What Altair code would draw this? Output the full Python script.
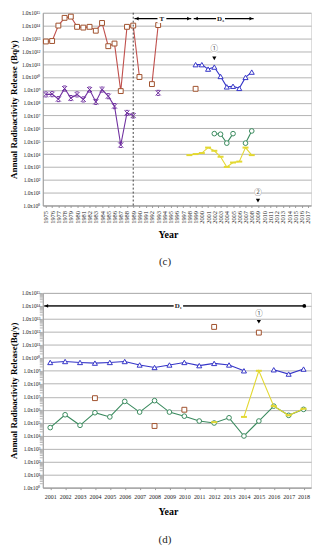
import altair as alt
import pandas as pd

FONT = "Liberation Serif"

# ---------------- shared axis ticks ----------------
y_ticks = [1e0, 1e1, 1e2, 1e3, 1e4, 1e5, 1e6, 1e7, 1e8, 1e9, 1e10, 1e11, 1e12, 1e13, 1e14, 1e15]
sup = ["⁰", "¹", "²", "³", "⁴", "⁵", "⁶", "⁷", "⁸", "⁹", "¹⁰", "¹¹", "¹²", "¹³", "¹⁴", "¹⁵"]
minor_ticks = [k * t for t in y_ticks[:-1] for k in (2, 3, 4, 5, 6, 7, 8, 9)]

# ---------------- panel (c) data ----------------
c_years_axis = list(range(1975, 2018))

c_brown_years = [1975, 1976, 1977, 1978, 1979, 1980, 1981, 1982, 1983, 1984, 1985, 1986,
                 1987, 1988, 1989, 1990, 1992, 1993, 1999]
c_brown_vals = [5.8e12, 6.3e12, 1.0e14, 4.0e14, 5.0e14, 8.0e13, 7.0e13, 8.0e13, 4.0e13, 1.6e14,
                2.5e12, 4.0e12, 8.0e8, 8.0e13, 1.0e14, 1.0e10, 2.8e9, 1.1e14, 1.2e9]

c_purple_years = [1975, 1976, 1977, 1978, 1979, 1980, 1981, 1982, 1983, 1984, 1985, 1986,
                  1987, 1988, 1989, 1993]
c_purple_vals = [4.4e8, 4.6e8, 1.9e8, 1.26e9, 2.3e8, 4.4e8, 1.8e8, 1.05e9, 1.15e8, 1.05e9,
                 3.2e8, 5.4e7, 5.1e4, 1.6e7, 1.0e7, 5.8e8]

c_blue_years = [1999, 2000, 2001, 2002, 2003, 2004, 2005, 2006, 2007, 2008]
c_blue_vals = [9.1e10, 9.1e10, 4.1e10, 5.9e10, 1.1e10, 1.7e9, 1.9e9, 1.3e9, 9.3e9, 2.4e10]

c_green_years = [2002, 2003, 2004, 2005, 2007, 2008]
c_green_vals = [3.9e5, 3.5e5, 7.1e4, 3.9e5, 7.1e4, 6.3e5]

c_yellow_years = [1998, 1999, 2000, 2001, 2002, 2003, 2004, 2005, 2006, 2007, 2008]
c_yellow_vals = [8.3e3, 1.0e4, 1.2e4, 3.2e4, 1.8e4, 6.2e3, 1.0e3, 2.2e3, 2.6e3, 3.2e4, 8.3e3]

c_dashed_year = [1989]

# ---------------- panel (d) data ----------------
d_years_axis = list(range(2001, 2019))

d_blue_years = [2001, 2002, 2003, 2004, 2005, 2006, 2007, 2008, 2009, 2010, 2011, 2012,
                2013, 2014, 2016, 2017, 2018]
d_blue_vals = [4.4e9, 5.2e9, 4.4e9, 3.9e9, 4.4e9, 5.2e9, 2.8e9, 1.8e9, 2.8e9, 4.4e9, 2.5e9,
               3.7e9, 2.8e9, 1.0e9, 1.2e9, 5.6e8, 1.35e9]

d_brown_years = [2004, 2008, 2010, 2012, 2015]
d_brown_vals = [7.8e6, 5.6e4, 1.0e6, 2.4e12, 8.7e11]

d_green_years = list(range(2001, 2019))
d_green_vals = [4.2e4, 4.1e5, 6.3e4, 5.9e5, 2.8e5, 4.4e6, 6.6e5, 5.0e6, 6.6e5, 3.2e5, 1.35e5,
                9.5e4, 2.4e5, 9.5e3, 1.35e5, 1.9e6, 3.7e5, 1.07e6]

d_yellow_years = [2012, 2014, 2015, 2016, 2017, 2018]
d_yellow_vals = [1.1e5, 2.8e5, 1.0e9, 1.9e6, 3.7e5, 1.2e6]

# ---------------- styles ----------------
X_PATH = "M-1,-1L1,1M-1,1L1,-1M-0.6,-1L0.6,-1M-0.6,1L0.6,1"
DASH_PATH = "M-1,0L1,0"
STYLE = {
    "brown": dict(line="#C0504D", stroke="#A0522D", shape="square", size=24, sw=1),
    "purple": dict(line="#7030A0", stroke="#7030A0", shape=X_PATH, size=26, sw=1),
    "blue": dict(line="#3535C8", stroke="#3535C8", shape="triangle-up", size=26, sw=1),
    "green": dict(line="#3A8A5E", stroke="#3A8A5E", shape="circle", size=22, sw=1),
    "yellow": dict(line="#E3D832", stroke="#E3D832", shape=DASH_PATH, size=36, sw=2),
}


def frame(years, vals):
    rows, seg, prev = [], 0, None
    for yr, v in zip(years, vals):
        if prev is not None and yr - prev > 1:
            seg += 1
        rows.append({"year": yr, "value": v, "seg": seg})
        prev = yr
    return pd.DataFrame(rows)


def y_axis(title):
    return alt.Axis(
        values=y_ticks,
        labelExpr="'1.0x10' + " + "[" + ",".join("'%s'" % s for s in sup) + "]" + "[round(log(datum.value)/LN10)]",
        title=title, titleFontWeight="bold", titleFontSize=9, titleFont=FONT,
        labelFont=FONT, labelFontSize=5.5, labelColor="#222", labelPadding=3, titlePadding=3,
        grid=True, gridColor="#A0A0A0", gridWidth=0.8,
        domainColor="#999", ticks=False,
    )


def series_layers(df, style, xenc, yenc, lines=True):
    st = STYLE[style]
    base = alt.Chart(df).encode(x=xenc, y=yenc)
    layers = []
    if lines:
        layers.append(base.mark_line(color=st["line"], strokeWidth=1.1).encode(detail="seg:N"))
    filled_white = st["shape"] in ("square", "triangle-up", "circle")
    layers.append(base.mark_point(
        shape=st["shape"], size=st["size"], filled=True,
        fill="white" if filled_white else st["stroke"],
        stroke=st["stroke"], strokeWidth=st["sw"], opacity=1,
    ))
    return layers


# ---------------- panel (c) ----------------
xc = alt.X("year:Q", scale=alt.Scale(domain=[1974.5, 2017.5], nice=False, zero=False),
           axis=alt.Axis(values=c_years_axis, tickCount=43, format="d", labelAngle=270, labelFontSize=6.5,
                         labelFont=FONT, labelOverlap=False, labelFlush=False, labelColor="#222",
                         grid=False, domainColor="#999", tickColor="#999", tickSize=2,
                         labelPadding=3, title="Year", titleFont=FONT, titleFontSize=10,
                         titleFontWeight="bold", titlePadding=6, titleX=126))
yc = alt.Y("value:Q", scale=alt.Scale(type="log", domain=[1, 1e15], nice=False),
           axis=y_axis("Annual Radioactivity Release (Bq/y)"))

c_layers = []
for name, yrs, vals in [("brown", c_brown_years, c_brown_vals),
                        ("purple", c_purple_years, c_purple_vals),
                        ("blue", c_blue_years, c_blue_vals),
                        ("green", c_green_years, c_green_vals),
                        ("yellow", c_yellow_years, c_yellow_vals)]:
    c_layers += series_layers(frame(yrs, vals), name, xc, yc)

c_layers.append(alt.Chart(pd.DataFrame({"year": c_dashed_year})).mark_rule(
    color="#444", strokeDash=[2, 2], strokeWidth=1).encode(x=alt.X("year:Q")))

# arrows in (c)
c_arrow = pd.DataFrame({"x": [1989.2, 1998.7], "x2": [1998.3, 2008.3], "y": [3.5e14, 3.5e14]})
c_layers.append(alt.Chart(c_arrow).mark_rule(color="black", strokeWidth=1.2).encode(
    x="x:Q", x2="x2:Q", y="y:Q"))
c_heads = pd.DataFrame({"x": [1989.6, 1997.9, 1999.1, 2007.9],
                        "y": [3.5e14] * 4,
                        "shape": ["triangle-left", "triangle-right", "triangle-left", "triangle-right"]})
c_layers.append(alt.Chart(c_heads).mark_point(filled=True, color="black", size=14, opacity=1).encode(
    x="x:Q", y="y:Q", shape=alt.Shape("shape:N", scale=None)))
c_lab = pd.DataFrame({"x": [1993.6, 2003.0], "y": [3.5e14, 3.5e14], "t": ["T", "D₃"]})
c_layers.append(alt.Chart(c_lab).mark_point(shape="square", size=80, filled=True, color="white", opacity=1).encode(
    x="x:Q", y="y:Q"))
c_layers.append(alt.Chart(c_lab).mark_text(font=FONT, fontSize=7, fontWeight="bold", color="#222").encode(
    x="x:Q", y="y:Q", text="t:N"))
# circled markers in (c)
c_mark_txt = pd.DataFrame({"x": [2002, 2009], "y": [1.4e12, 10.0], "t": ["①", "②"]})
c_layers.append(alt.Chart(c_mark_txt).mark_point(shape="circle", size=50, filled=True, color="white", opacity=1).encode(
    x="x:Q", y="y:Q"))
c_layers.append(alt.Chart(c_mark_txt).mark_text(font="Noto Sans CJK JP", fontSize=7.5, color="#555").encode(
    x="x:Q", y="y:Q", text="t:N"))
c_tri = pd.DataFrame({"x": [2002, 2009], "y": [2.8e11, 2.4]})
c_layers.append(alt.Chart(c_tri).mark_point(shape="triangle-down", filled=True, color="black", size=18, opacity=1).encode(
    x="x:Q", y="y:Q"))

c_chart = alt.layer(*c_layers).properties(
    width=270, height=194,
    title=alt.TitleParams("(c)", orient="bottom", font=FONT, fontSize=11, fontWeight="normal",
                          color="#222", offset=17, dx=-12))

# ---------------- panel (d) ----------------
xd = alt.X("year:Q", scale=alt.Scale(domain=[2000.5, 2018.5], nice=False, zero=False),
           axis=alt.Axis(values=d_years_axis, tickCount=18, format="d", labelAngle=0, labelFontSize=6,
                         labelFont=FONT, labelOverlap=False, labelFlush=False, labelColor="#222",
                         grid=False, domainColor="#999", tickColor="#999", tickSize=2,
                         labelPadding=4, title="Year", titleFont=FONT, titleFontSize=10,
                         titleFontWeight="bold", titlePadding=7, titleX=126))
yd = alt.Y("value:Q", scale=alt.Scale(type="log", domain=[1, 1e15], nice=False),
           axis=y_axis("Annual Radioactivity Release(Bq/y)"))

d_layers = []
for name, yrs, vals, ln in [("blue", d_blue_years, d_blue_vals, True),
                            ("brown", d_brown_years, d_brown_vals, False),
                            ("green", d_green_years, d_green_vals, True),
                            ("yellow", d_yellow_years, d_yellow_vals, True)]:
    d_layers += series_layers(frame(yrs, vals), name, xd, yd, lines=ln)

d_layers.append(alt.Chart(pd.DataFrame({"value": minor_ticks})).mark_rule(color="#999", strokeWidth=0.7).encode(
    y="value:Q", x=alt.value(-3), x2=alt.value(0)))

d_arrow = pd.DataFrame({"x": [2000.6], "x2": [2018.05], "y": [1e14]})
d_layers.append(alt.Chart(d_arrow).mark_rule(color="black", strokeWidth=1.2).encode(
    x="x:Q", x2="x2:Q", y="y:Q"))
d_heads = pd.DataFrame({"x": [2000.75, 2018.05], "y": [1e14, 1e14], "shape": ["triangle-left", "circle"]})
d_layers.append(alt.Chart(d_heads).mark_point(filled=True, color="black", size=14, opacity=1).encode(
    x="x:Q", y="y:Q", shape=alt.Shape("shape:N", scale=None)))
d_lab = pd.DataFrame({"x": [2009.6], "y": [1e14], "t": ["D₁"]})
d_layers.append(alt.Chart(d_lab).mark_point(shape="square", size=90, filled=True, color="white", opacity=1).encode(
    x="x:Q", y="y:Q"))
d_layers.append(alt.Chart(d_lab).mark_text(font=FONT, fontSize=7, fontWeight="bold", color="#222").encode(
    x="x:Q", y="y:Q", text="t:N"))
d_mark_txt = pd.DataFrame({"x": [2015], "y": [2.5e13], "t": ["①"]})
d_layers.append(alt.Chart(d_mark_txt).mark_text(font="Noto Sans CJK JP", fontSize=7.5, color="#555").encode(
    x="x:Q", y="y:Q", text="t:N"))
d_tri = pd.DataFrame({"x": [2015], "y": [6e12]})
d_layers.append(alt.Chart(d_tri).mark_point(shape="triangle-down", filled=True, color="black", size=18, opacity=1).encode(
    x="x:Q", y="y:Q"))

d_chart = alt.layer(*d_layers).properties(
    width=270, height=196,
    title=alt.TitleParams("(d)", orient="bottom", font=FONT, fontSize=11, fontWeight="normal",
                          color="#222", offset=18, dx=-12))

chart = alt.vconcat(c_chart, d_chart, spacing=22).properties(
    padding={"left": 0, "top": 0, "right": 0, "bottom": 0}
).configure_view(stroke="#A0A0A0", strokeWidth=1).configure_axisX(
    labelOverlap=False, labelFlush=False
).configure(background="white")

chart.save("out.html", embed_options={"renderer": "svg", "actions": False})
